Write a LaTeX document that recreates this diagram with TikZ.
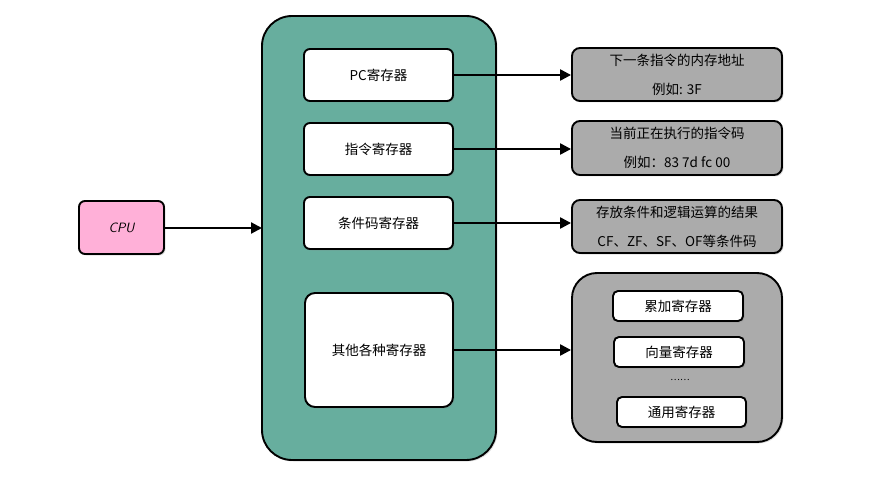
\documentclass[tikz,border=0pt]{standalone}
\usepackage{fontspec}
\setmainfont{Noto Sans CJK SC}
\usetikzlibrary{arrows.meta,shadows}
\definecolor{teal1}{HTML}{67AE9E}
\definecolor{gray1}{HTML}{ABABAB}
\definecolor{pink1}{HTML}{FFB0D8}
\tikzset{
  box/.style={draw=black, line width=1.9pt, rounded corners=#1, drop shadow={shadow xshift=1.5pt, shadow yshift=-1.5pt, opacity=0.25}},
  box/.default=6pt,
  txt/.style={font=\fontsize{13.5}{29}\selectfont, align=center},
  arr/.style={-{Triangle[length=11pt,width=11pt]}, line width=2.3pt},
}
\begin{document}
\begin{tikzpicture}[x=1pt,y=-1pt]
\useasboundingbox (0,0) rectangle (875,481);
% container
\draw[box=30pt, fill=teal1] (262,16) rectangle (496,460);
\node[box, fill=white, minimum width=149pt, minimum height=52pt, txt] (pc) at (378.5,75) {PC寄存器};
\node[box, fill=white, minimum width=149pt, minimum height=52pt, txt] (ir) at (378.5,149) {指令寄存器};
\node[box, fill=white, minimum width=149pt, minimum height=52pt, txt] (cc) at (378.5,223) {条件码寄存器};
\node[box=10pt, fill=white, minimum width=148pt, minimum height=114pt, txt] (ot) at (379,350) {其他各种寄存器};
\coordinate (cin) at (262,228);
% CPU
\node[box, fill=pink1, minimum width=85pt, minimum height=53pt, txt, font=\fontsize{13.5}{15}\sffamily\itshape] (cpu) at (121.5,227.5) {CPU};
\draw[arr] (cpu.east |- cin) -- (cin);
% gray boxes
\node[box=8pt, fill=gray1, minimum width=210pt, minimum height=53pt, txt] (g1) at (677,74.5) {下一条指令的内存地址\\例如: 3F};
\node[box=8pt, fill=gray1, minimum width=210pt, minimum height=54pt, txt] (g2) at (677,148) {当前正在执行的指令码\\例如：83 7d fc 00};
\node[box=8pt, fill=gray1, minimum width=210pt, minimum height=53pt, txt] (g3) at (677,226.5) {存放条件和逻辑运算的结果\\CF、ZF、SF、OF等条件码};
\node[box=25pt, fill=gray1, minimum width=210pt, minimum height=169pt] (g4) at (677,357.5) {};
\node[box=5pt, fill=white, minimum width=130pt, minimum height=30pt, txt] (a1) at (678,306) {累加寄存器};
\node[box=5pt, fill=white, minimum width=130pt, minimum height=30pt, txt] (a2) at (679,352) {向量寄存器};
\node[txt, font=\fontsize{9}{10}\selectfont] (dots) at (680,380) {……};
\node[box=5pt, fill=white, minimum width=129pt, minimum height=30pt, txt] (a3) at (681.5,412) {通用寄存器};
% arrows
\draw[arr] (pc.east) -- (pc.east -| g1.west);
\draw[arr] (ir.east) -- (ir.east -| g2.west);
\draw[arr] (cc.east) -- (cc.east -| g3.west);
\draw[arr] (ot.east) -- (ot.east -| g4.west);
\end{tikzpicture}
\end{document}
